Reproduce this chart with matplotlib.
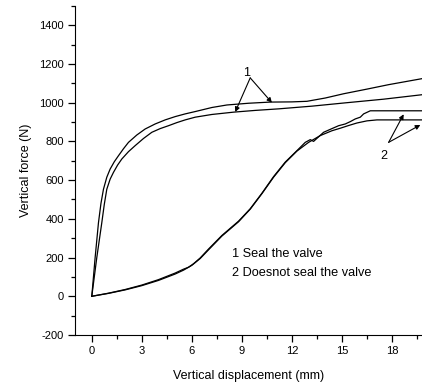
import matplotlib.pyplot as plt
from matplotlib.ticker import MultipleLocator

# Curva 1: sellando la válvula (dos ensayos)
x_seal_a = [0, 0.2, 0.4, 0.55, 0.7, 0.9, 1.1, 1.35, 1.6, 1.9, 2.2, 2.7, 3.2, 3.8, 4.4, 5.0, 5.6, 6.2, 7.2, 8.1,
            9.4, 10.7, 12.0, 12.9, 14.0, 15.1, 16.5, 17.8, 19.8]
y_seal_a = [0, 200, 380, 480, 553, 615, 657, 695, 726, 762, 795, 833, 864, 890, 911, 928, 942, 954, 975, 988,
            997, 1003, 1004, 1007, 1024, 1046, 1070, 1093, 1124]
x_seal_b = [0, 0.3, 0.6, 0.75, 0.9, 1.1, 1.3, 1.55, 1.8, 2.2, 2.6, 3.1, 3.6, 4.1, 4.6, 5.1, 5.6, 6.2, 7.2,
            8.5, 9.8, 11.2, 13.2, 15.2, 17.5, 19.8]
y_seal_b = [0, 200, 380, 475, 553, 605, 640, 678, 709, 747, 778, 815, 847, 866, 881, 897, 911, 925, 939,
            951, 960, 968, 982, 999, 1018, 1041]

# Curva 2: sin sellar la válvula (dos ensayos)
x_open_a = [0, 1.0, 2.0, 3.0, 4.0, 5.0, 5.5, 5.8, 6.1, 6.5, 7.0, 7.8, 8.8, 9.5, 10.2, 10.9, 11.6, 12.3, 12.8, 13.1,
            13.3, 13.9, 14.4, 14.8, 15.2, 15.5, 15.8, 16.1, 16.3, 16.7, 19.8]
y_open_a = [0, 16, 35, 58, 86, 120, 140, 150, 168, 198, 244, 314, 388, 452, 532, 618, 693, 752, 795, 809,
            800, 847, 866, 881, 890, 902, 916, 925, 942, 958, 958]
x_open_b = [0, 1.0, 2.0, 3.0, 4.0, 5.0, 5.5, 6.0, 6.5, 7.0, 7.8, 8.8, 9.5, 10.2, 10.9, 11.6, 12.3, 13.0, 13.7,
            14.4, 14.9, 15.4, 15.9, 16.5, 17.1, 19.8]
y_open_b = [0, 15, 33, 55, 82, 115, 135, 160, 195, 240, 311, 385, 450, 530, 615, 690, 750, 795, 830,
            855, 868, 882, 895, 906, 911, 911]

plt.rcParams['font.family'] = ['Liberation Sans', 'DejaVu Sans']
plt.rcParams['axes.unicode_minus'] = False

fig = plt.figure(figsize=(4.22, 3.9), dpi=100)
ax = fig.add_axes([0.178, 0.141, 0.822, 0.844])

for xs, ys in [(x_seal_a, y_seal_a), (x_seal_b, y_seal_b), (x_open_a, y_open_a), (x_open_b, y_open_b)]:
    ax.plot(xs, ys, color='black', lw=0.9)

ax.set_xlim(-1, 19.8)
ax.set_ylim(-200, 1500)
ax.xaxis.set_major_locator(MultipleLocator(3))
ax.xaxis.set_minor_locator(MultipleLocator(1.5))
ax.set_yticks(range(-200, 1401, 200))
ax.yaxis.set_minor_locator(MultipleLocator(100))
ax.spines['top'].set_visible(False)
ax.spines['right'].set_visible(False)
ax.tick_params(which='major', direction='out', length=5, width=0.9, pad=3, labelsize=8)
ax.tick_params(which='minor', direction='out', length=3, width=0.9)

ax.set_xlabel('Vertical displacement (mm)', fontsize=9, labelpad=10)
ax.set_ylabel('Vertical force (N)', fontsize=9, labelpad=5)

# Anotaciones
arrow = dict(arrowstyle='-|>', color='black', lw=0.8, mutation_scale=7, shrinkA=0, shrinkB=0)
ax.annotate('', xy=(8.6, 952), xytext=(9.5, 1128), arrowprops=arrow)
ax.annotate('', xy=(10.8, 1000), xytext=(9.5, 1128), arrowprops=arrow)
ax.text(9.3, 1152, '1', ha='center', va='center', fontsize=9)
ax.annotate('', xy=(18.7, 940), xytext=(17.8, 795), arrowprops=arrow)
ax.annotate('', xy=(19.7, 885), xytext=(17.8, 795), arrowprops=arrow)
ax.text(17.5, 726, '2', ha='center', va='center', fontsize=9)

ax.text(8.4, 220, '1 Seal the valve', ha='left', va='center', fontsize=9.2)
ax.text(8.4, 118, '2 Doesnot seal the valve', ha='left', va='center', fontsize=9.2)

fig.savefig('out.png', dpi=100)
